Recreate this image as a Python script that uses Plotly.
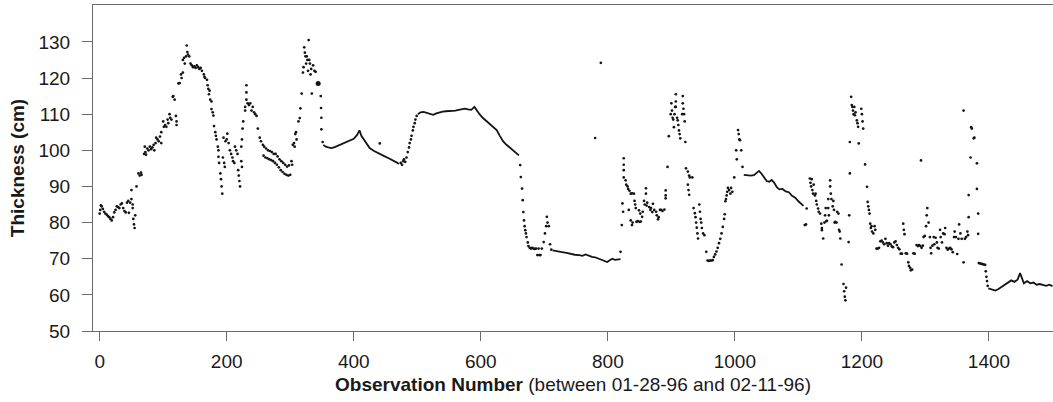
import plotly.graph_objects as go

# ---------------- data (observation number, thickness in cm) ----------------
# scattered observations, first ice growth / break-up period
pts_early = [(0,82.5),(1,83.5),(2,84.8),(3,84.5),(5,83.8),(7,83),(9,82.5),(11,82.2),(13,81.8),(15,81.5),
    (17,81),(19,80.6),(21,81.5),(23,82.8),(25,83.5),(27,84.5),(29,84.3),(31,84),(33,85),(35,85.3),
    (37,84),(39,83.2),(41,82.8),(43,85.5),(45,86),(46,82.7),(48,85.5),(50,89),(50,86.5),(52,85),
    (52,84),(53,81),(54,79.5),(55,78.5),(56,82),(58,90),(61,93.6),(63,93),(65,93.8),(66,93.2),
    (70,99),(71,101),(72,99.5),(73,98.8),(75,100.5),(77,100),(79,101),(81,100.3),(83,100.8),(85,101.5),
    (86,100),(88,102),(89,103.5),(91,103),(93,102.5),(95,103.8),(97,105),(97,102),(100,108),(101,106.5),
    (103,107),(105,106.5),(107,108.5),(108,107.5),(110,110),(111,109),(113,108.5),(115,114.8),(116,115),
    (118,114),(120,109.5),(121,108),(121,107),(124,118.5),(126,118.6),(128,121),(129,120),(131,121.5),
    (131,125),(133,125.6),(134,124),(136,126),(137,129),(138,127.2),(139,126.5),(141,126),(143,124),
    (145,123.5),(147,123),(149,123.2),(151,122.8),(153,123.5),(155,123),(157,122.5),(159,122.8),(161,122),
    (164,121),(165,120.3),(166,120),(169,119.5),(170,118),(171,117),(172,115.5),(173,116.5),(174,114),
    (176,113.5),(176,111.4),(178,110.5),(179,109.6),(180,106.7),(182,105),(183,104),(184,103),(186,101),
    (187,100),(187,98.2),(188,96.5),(190,93.6),(191,92),(192,90),(193,88),(194,98),(196,96.5),(197,95.4),
    (195,103.5),(198,102.5),(200,103),(201,104.6),(203,102),(205,100),(207,99),(209,98),(210,97),(212,96.5),
    (213,101),(215,100),(217,99),(218,94.5),(219,93),(220,91.5),(221,90),(223,97),(224,95.4),(223,101),
    (224,103),(225,106),(226,108),(229,112),(229,111),(231,118),(231,116),(231,114),(233,113),(235,112.5),
    (237,113),(239,111),(241,112),(243,110.5),(245,110),(247,109.5),(249,106),(252,103.5),(254,102.5),
    (257,101.5),
    (259,101),(262,100.5),(265,100),(268,99.8),(271,99.5),(274,99),(277,99),(280,98.3),(283,97.5),
    (286,97),(289,96.5),(292,96),(295,95.5),(298,95.8),
    (258,98.5),(261,98),(264,97.8),(267,97.5),(270,97.3),(273,97),(276,96.5),(279,96),(282,95.3),
    (285,94.5),(288,94),(291,93.5),(294,93.2),(297,93),(300,93.2),
    (302,97),(303,96),(304,101.5),(306,102),(307,101),(308,104.5),(309,105),(310,103),(313,108),
    (315,108.9),(316,111.6),(318,115.7),(320,121.5),(321,123),(322,128.5),(323,127),(324,126),(325,124),
    (326,126),(327,125),(328,122),(329,130.5),(330,125),(331,124),(332,121),(333,122.5),(334,115.7),
    (336,123.5),(338,122),(340,121.7),(348,115),(348.5,111.7),(349,109),(349,105.8),(351,102.3)]

pts_large = [(344,118.5)]

pts_middle = [(441,101.9),(474,96.5),(476,96),(478,97),(479,97.5),(481,96.8),(483,98),(485,99.5),
    (487,100.8),(488,102),(490,103),(491,104),(493,105.5),(494,106.5),(496,107.5),(497,108.5),(499,109.5),
    (662,95.9),(663,92.6),(665,89.4),(666,86.2),(667,82.9),(668,80.6),(669,79),(670,77.9),(671,77),
    (672,76),(674,74.5),(675,73.5),(677,73),(679,72.8),(681,73),(683,72.8),(685,72.7),(687,72.8),
    (689,71),(691,72.8),(692,71),(694,71),(696,72.8),(699,74.6),(701,77),(703,79),(704,81.6),(705,80),
    (707,79),(709,74),(711,72.5),(780,103.4),(789,124.2)]

pts_late = [(820,71.9),(822,79.3),(823,85.3),(824,83),(825,97.8),(825,96),(825,94.5),(825,92.5),
    (828,91.7),(829,90.5),(831,90),(832,89.3),(833,83.5),(834,88.8),(836,88),(836,80.6),(838,88.1),
    (838,79.3),(839,80),(841,88),(842,86),(843,85),(844,84),(845,80.2),(847,80.4),(849,83.4),(850,80.2),
    (851,82.5),(852,80.3),(854,81.6),(855,83),(857,86),(858,85),(860,89.5),(860,88),(861,84.7),(862,85.5),
    (865,84.3),(867,83.5),(868,84),(870,82.9),(871,85.2),(873,83.5),(876,83),(877,82),(879,80.9),
    (880,81.5),(882,83.5),(884,83.5),(886,83.2),(889,83.6),(891,88.9),(891,87.5),(891,86.7),(894,95.4),
    (896,103.9),(899,110),(900,113),(901,111),(902,109),(903,108.5),(904,106.4),(905,110),(906,112),
    (907,115.5),(907,113.5),(907,112),(909,109),(910,108.3),(911,107),(912,105.5),(913,104.5),(914,103.3),
    (917,110),(918,115),(918,113),(919,111.5),(920,110),(921,108),(922,102.3),(923,95),(926,94.1),
    (926,90.5),(927,89),(928,93),(928,87.7),(929,92.5),(933,92.5),(935,84),(937,82.6),(938,81.5),
    (939,80),(940,78.6),(941,77),(942,75.6),(944,85),(945,83),(946,81),(947,80),(948,78.5),(950,77),
    (952,76.5),(955,71.9),(957,69.5),(959,69.4),(961,69.5),(963,69.5),(965,69.6),(967,70.5),(969,71.2),
    (971,72),(973,73),(975,74.3),(977,75.5),(979,77),(981,78.8),(983,81),(984,82.3),(985,85.9),
    (986,86.5),(987,87.5),(988,88.5),(989,89.6),(991,89),(993,88),(994,89.6),(996,88.5),(999,92.5),
    (1002,100),(1003,97.5),(1005,105.6),(1006,104.5),(1007,103),(1008,102.8),(1010,100),(1012,95.4)]

pts_end = [(1110,79.3),(1112,79.5),(1113,83.9),(1118,92.2),(1119,91),(1120,90),(1121,92),(1122,89),
    (1123,88),(1124,90.5),(1126,87.5),(1127,88),(1128,86),(1129,85),(1131,83.9),(1132,83),(1134,82.5),
    (1136,79.7),(1137,78.5),(1137,77.9),(1139,75.6),(1141,80),(1142,82),(1143,84),(1144,80.4),(1145,80.5),
    (1147,86.5),(1147,84),(1148,82),(1150,91.7),(1150,90),(1151,88),(1152,86.5),(1154,84.5),(1155,86),
    (1156,83.5),(1157,80),(1158,80.2),(1160,80),(1161,83),(1163,82.5),(1164,78),(1165,77.5),(1166,75.6),
    (1168,68.4),(1171,63),(1172,61),(1173,59.5),(1174,58.5),(1175,62),(1179,74.6),(1180,82),(1181,93.6),
    (1181,102.3),(1183,114.8),(1184,112.5),(1185,112),(1186,111),(1187,110),(1188,112),(1189,109.7),
    (1190,110.5),(1192,108.3),(1193,107.5),(1194,106.5),(1195,101.9),(1199,111.5),(1200,110),(1201,108),
    (1202,106),(1205,96.1),(1208,89.9),(1209,85.7),(1210,84.5),(1211,83.5),(1212,82.5),(1213,79.7),
    (1214,78.5),(1215,79),(1216,77.5),(1218,77),(1220,79),(1221,78),(1223,72.8),(1225,72.8),(1227,73),
    (1229,74.8),(1231,75),(1233,74.5),(1235,74),(1237,75.5),(1239,74.3),(1241,73.6),(1243,74.3),
    (1245,74),(1247,73.4),(1249,73.2),(1251,74.5),(1253,74.8),(1255,73.8),(1257,73),(1259,72.6),
    (1261,71.4),(1263,71.4),(1265,79.7),(1266,78),(1267,76.8),(1269,71.5),(1271,71.4),(1273,69),
    (1274,68),(1276,67.5),(1277,66.8),(1279,67),(1281,71.5),(1283,71.4),(1286,73.8),(1288,73.5),
    (1290,73.8),(1292,73.5),(1293,97.2),(1294,73),(1296,73.6),(1297,76),(1299,76.3),(1301,79),(1302,82),
    (1303,84),(1305,80),(1307,76),(1308,73),(1309,71.5),(1311,73.6),(1313,76),(1314,74),(1316,75.8),
    (1318,74.5),(1319,73),(1321,72.8),(1323,78),(1324,76),(1326,74.5),(1328,77),(1330,76.8),(1331,78.5),
    (1333,73),(1335,72.5),(1337,72.8),(1339,73),(1341,72.6),(1343,71.8),(1345,76),(1346,77.5),(1348,76),
    (1350,71.3),(1352,75.5),(1353,79.5),(1355,77),(1357,75.5),(1360,111),(1360,69),(1362,75.5),(1364,76),
    (1366,77.5),(1367,76.5),(1368,87.6),(1368,81.5),(1371,98),(1372,106.4),(1373,106),(1376,103.3),
    (1377,103.5),(1381,96.4),(1381,89.3),(1383,82.5),(1383,76.9),
    (1384,68.8),(1386,68.7),(1388,68.6),(1390,68.5),(1392,68.4),(1394,68.3),(1395,66.5),(1396,65),
    (1397,63.8),(1398,62.5)]

# densely sampled stretches that print as a continuous trace
run_a = [(352,101.5),(356,101),(360,100.8),(365,100.6),(370,100.9),(375,101.3),(380,101.6),(385,102),
    (390,102.5),(395,102.8),(400,103.2),(405,104.2),(409,105.5),(412,104),(416,103),(420,101.8),
    (425,100.6),(432,99.8),(440,99),(448,98.4),(455,97.8),(463,97.2),(468,96.6),(471,96.2)]
run_b = [(501,110),(505,110.5),(510,110.6),(515,110.4),(520,110.2),(525,109.8),(530,110.2),(535,110.5),
    (540,110.7),(545,110.8),(550,110.8),(555,110.9),(560,111),(565,111.2),(570,111.4),(575,111.5),
    (580,111.3),(585,111.2),(590,112),(593,111.2),(598,110),(603,109),(609,108),(615,107.2),(620,106.3),
    (625,105.6),(630,104),(635,102.5),(640,101.6),(645,100.9),(651,100),(656,99.3),(660,98.6)]
run_c = [(713,72.3),(720,72),(728,71.8),(735,71.6),(742,71.3),(748,71.1),(755,71),(760,70.8),(765,71.2),
    (770,70.8),(775,70.5),(780,70.4),(785,70),(790,69.8),(795,69.4),(799,69.1),(803,69.6),(807,70),
    (811,69.7),(815,69.8),(820,69.9)]
run_d = [(1014,93.2),(1020,93),(1025,93),(1030,93.1),(1034,93.6),(1038,94.3),(1042,93.5),(1046,92.4),
    (1050,91.5),(1054,91.3),(1058,91.8),(1062,91),(1066,89.8),(1070,89.2),(1075,89.3),(1080,88.6),
    (1085,88.4),(1090,87.4),(1095,86.9),(1100,85.9),(1105,85),(1108,84.6)]
run_e = [(1399,61.8),(1405,61.4),(1410,61.2),(1415,61.6),(1420,62.2),(1425,62.8),(1430,63.5),(1435,64),
    (1440,63.6),(1445,64.2),(1449,66),(1452,64.5),(1455,63.2),(1460,63.8),(1465,63.2),(1470,63.4),
    (1475,62.8),(1480,63),(1485,62.8),(1490,62.5),(1495,62.8),(1500,62.4)]

x_ticks = [0, 200, 400, 600, 800, 1000, 1200, 1400]
y_ticks = [50, 60, 70, 80, 90, 100, 110, 120, 130]

# ---------------- figure ----------------
dots = pts_early + pts_middle + pts_late + pts_end
dot_x = [p[0] for p in dots]
dot_y = [p[1] for p in dots]

run_x, run_y = [], []
for run in (run_a, run_b, run_c, run_d, run_e):
    run_x += [p[0] for p in run] + [None]
    run_y += [p[1] for p in run] + [None]

ink = "#141414"
fig = go.Figure()
fig.add_trace(go.Scatter(x=run_x, y=run_y, mode="lines",
                         line=dict(color=ink, width=1.8), hoverinfo="skip"))
fig.add_trace(go.Scatter(x=dot_x, y=dot_y, mode="markers",
                         marker=dict(color=ink, size=2.7, line=dict(width=0))))
fig.add_trace(go.Scatter(x=[p[0] for p in pts_large], y=[p[1] for p in pts_large], mode="markers",
                         marker=dict(color=ink, size=5, line=dict(width=0))))

font_family = "Liberation Sans, Arial, Helvetica, sans-serif"
axis_col = "#6a6a6a"
fig.update_layout(
    width=1053, height=402,
    margin=dict(l=93, r=0, t=5, b=71),
    paper_bgcolor="white", plot_bgcolor="white",
    showlegend=False,
    font=dict(family=font_family, size=19, color="#1a1a1a"),
    xaxis=dict(range=[-10.5, 1500.8], tickvals=x_ticks, ticks="outside", ticklen=9,
               tickcolor=axis_col, tickwidth=1.2, showline=True, linecolor=axis_col, linewidth=1.2,
               mirror=True, showgrid=False, zeroline=False, ticklabelstandoff=4,
               title=dict(text="<b>Observation Number</b> (between 01-28-96 and 02-11-96)",
                          font=dict(size=19), standoff=6)),
    yaxis=dict(range=[50, 140.2], tickvals=y_ticks, ticks="outside", ticklen=10,
               tickcolor=axis_col, tickwidth=1.2, showline=True, linecolor=axis_col, linewidth=1.2,
               showgrid=False, zeroline=False, ticklabelstandoff=8,
               title=dict(text="<b>Thickness (cm)</b>", font=dict(size=19), standoff=8)),
)

fig.write_html("out.html", config={"displayModeBar": False},
               post_script="document.body.style.margin='0px';")
